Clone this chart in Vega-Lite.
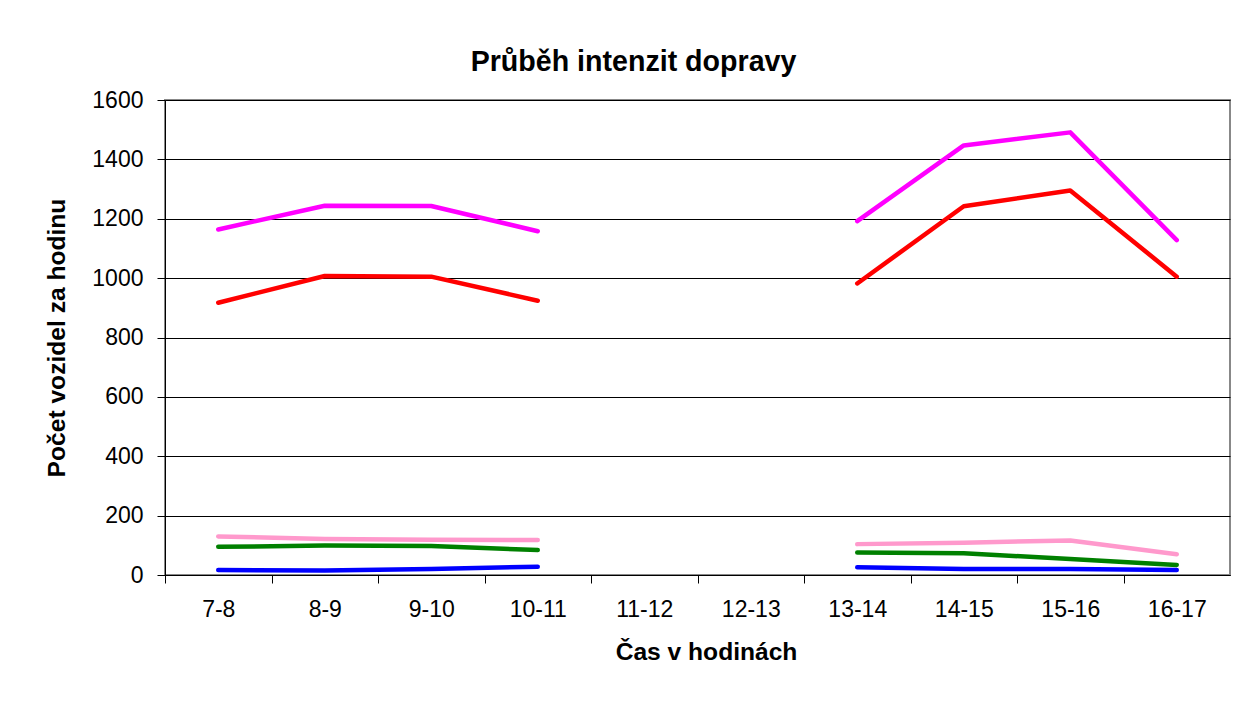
{
  "$schema": "https://vega.github.io/schema/vega-lite/v6.json",
  "autosize": {"type": "none"},
  "padding": {"left": 165, "top": 100, "right": 22, "bottom": 127},
  "width": 1065,
  "height": 475,
  "background": "white",
  "title": {
    "text": "Průběh intenzit dopravy",
    "font": "Liberation Sans",
    "fontSize": 28.6,
    "fontWeight": "bold",
    "color": "black",
    "anchor": "middle",
    "dx": -64,
    "offset": 12
  },
  "config": {
    "font": "Liberation Sans",
    "view": {"stroke": "#888888", "strokeWidth": 2},
    "axis": {
      "labelFont": "Liberation Sans",
      "labelFontSize": 23,
      "labelColor": "black",
      "titleFont": "Liberation Sans",
      "titleFontSize": 24.6,
      "titleFontWeight": "bold",
      "titleColor": "black",
      "domainColor": "black",
      "tickColor": "black",
      "tickSize": 8
    }
  },
  "data": {
    "values": [
      {"cas": "7-8", "serie": "A", "pocet": 1164},
      {"cas": "8-9", "serie": "A", "pocet": 1244},
      {"cas": "9-10", "serie": "A", "pocet": 1243},
      {"cas": "10-11", "serie": "A", "pocet": 1158},
      {"cas": "11-12", "serie": "A", "pocet": null},
      {"cas": "12-13", "serie": "A", "pocet": null},
      {"cas": "13-14", "serie": "A", "pocet": 1192},
      {"cas": "14-15", "serie": "A", "pocet": 1447},
      {"cas": "15-16", "serie": "A", "pocet": 1491},
      {"cas": "16-17", "serie": "A", "pocet": 1128},
      {"cas": "7-8", "serie": "B", "pocet": 917},
      {"cas": "8-9", "serie": "B", "pocet": 1007},
      {"cas": "9-10", "serie": "B", "pocet": 1005},
      {"cas": "10-11", "serie": "B", "pocet": 924},
      {"cas": "11-12", "serie": "B", "pocet": null},
      {"cas": "12-13", "serie": "B", "pocet": null},
      {"cas": "13-14", "serie": "B", "pocet": 982},
      {"cas": "14-15", "serie": "B", "pocet": 1242},
      {"cas": "15-16", "serie": "B", "pocet": 1295},
      {"cas": "16-17", "serie": "B", "pocet": 1005},
      {"cas": "7-8", "serie": "C", "pocet": 130},
      {"cas": "8-9", "serie": "C", "pocet": 121},
      {"cas": "9-10", "serie": "C", "pocet": 119},
      {"cas": "10-11", "serie": "C", "pocet": 118},
      {"cas": "11-12", "serie": "C", "pocet": null},
      {"cas": "12-13", "serie": "C", "pocet": null},
      {"cas": "13-14", "serie": "C", "pocet": 104},
      {"cas": "14-15", "serie": "C", "pocet": 109},
      {"cas": "15-16", "serie": "C", "pocet": 116},
      {"cas": "16-17", "serie": "C", "pocet": 70},
      {"cas": "7-8", "serie": "D", "pocet": 95},
      {"cas": "8-9", "serie": "D", "pocet": 99},
      {"cas": "9-10", "serie": "D", "pocet": 98},
      {"cas": "10-11", "serie": "D", "pocet": 84},
      {"cas": "11-12", "serie": "D", "pocet": null},
      {"cas": "12-13", "serie": "D", "pocet": null},
      {"cas": "13-14", "serie": "D", "pocet": 76},
      {"cas": "14-15", "serie": "D", "pocet": 73},
      {"cas": "15-16", "serie": "D", "pocet": 54},
      {"cas": "16-17", "serie": "D", "pocet": 34},
      {"cas": "7-8", "serie": "E", "pocet": 17},
      {"cas": "8-9", "serie": "E", "pocet": 15},
      {"cas": "9-10", "serie": "E", "pocet": 20},
      {"cas": "10-11", "serie": "E", "pocet": 28},
      {"cas": "11-12", "serie": "E", "pocet": null},
      {"cas": "12-13", "serie": "E", "pocet": null},
      {"cas": "13-14", "serie": "E", "pocet": 26},
      {"cas": "14-15", "serie": "E", "pocet": 20},
      {"cas": "15-16", "serie": "E", "pocet": 20},
      {"cas": "16-17", "serie": "E", "pocet": 17}
    ]
  },
  "mark": {
    "type": "line",
    "strokeWidth": 4.5,
    "strokeCap": "round",
    "strokeJoin": "round",
    "invalid": "break-paths-show-domains"
  },
  "encoding": {
    "x": {
      "field": "cas",
      "type": "ordinal",
      "sort": ["7-8", "8-9", "9-10", "10-11", "11-12", "12-13", "13-14", "14-15", "15-16", "16-17"],
      "scale": {"type": "point", "padding": 0.5},
      "axis": {
        "title": "Čas v hodinách",
        "labelAngle": 0,
        "tickOffset": -53.25,
        "labelOffset": 53.25,
        "labelPadding": 15,
        "titlePadding": 19,
        "titleX": 541,
        "grid": false
      }
    },
    "y": {
      "field": "pocet",
      "type": "quantitative",
      "scale": {"domain": [0, 1600], "nice": false},
      "axis": {
        "title": "Počet vozidel za hodinu",
        "values": [0, 200, 400, 600, 800, 1000, 1200, 1400, 1600],
        "format": "d",
        "grid": true,
        "gridColor": "black",
        "gridOpacity": 1,
        "gridWidth": 1,
        "labelPadding": 14,
        "titlePadding": 22
      }
    },
    "color": {
      "field": "serie",
      "type": "nominal",
      "scale": {"domain": ["A", "B", "C", "D", "E"], "range": ["#FF00FF", "#FF0000", "#FF99CC", "#008000", "#0000FF"]},
      "legend": null
    }
  }
}
